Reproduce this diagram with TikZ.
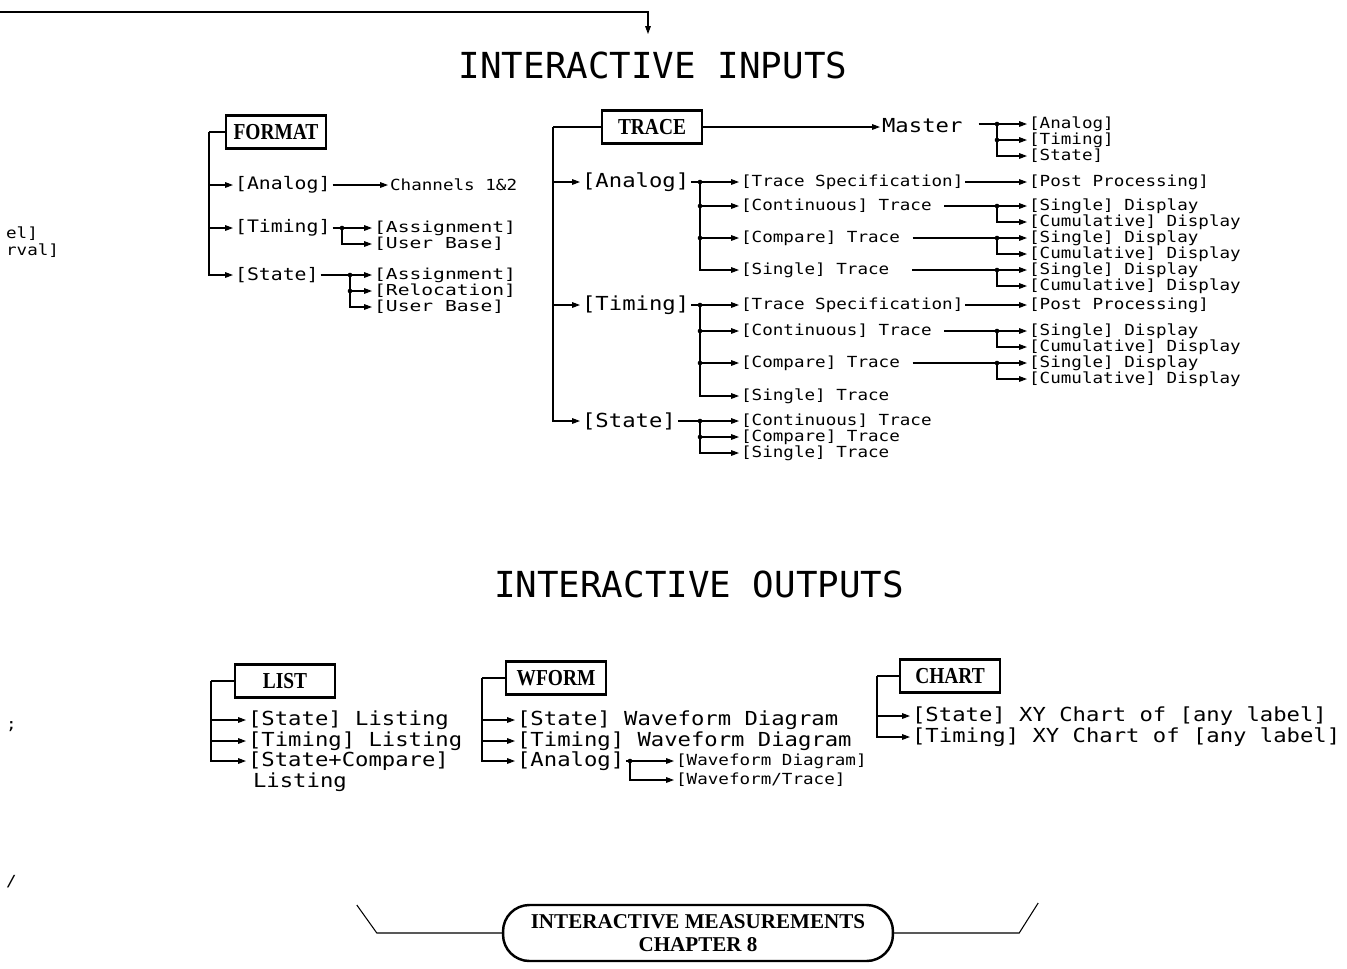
\documentclass[tikz,border=0pt]{standalone}
\usepackage{fontspec}
\usetikzlibrary{arrows.meta}
\newfontfamily\plotfont{DejaVu Sans Mono}[FakeStretch=1.15]
\newfontfamily\plotwide{DejaVu Sans Mono}[FakeStretch=1.3]
\newfontfamily\headfont{DejaVu Sans Mono}
\newfontfamily\keyfont{Liberation Serif}[FakeStretch=0.85]
\newfontfamily\tabfont{Liberation Serif}
\tikzset{
  big/.style={anchor=west, inner xsep=1pt, inner ysep=0pt, font=\plotfont\fontsize{11}{13}\selectfont},
  mid/.style={anchor=west, inner xsep=1pt, inner ysep=0pt, font=\plotfont\fontsize{9.8}{12}\selectfont},
  wid/.style={anchor=west, inner xsep=1pt, inner ysep=0pt, font=\plotwide\fontsize{8.6}{10}\selectfont},
  sml/.style={anchor=west, inner xsep=1pt, inner ysep=0pt, font=\plotfont\fontsize{8.7}{10}\selectfont},
  keybox/.style={draw, line width=1.3pt, minimum width=2cm, minimum height=0.66cm,
    inner sep=2pt, font=\keyfont\bfseries\fontsize{13}{15}\selectfont},
  heading/.style={font=\headfont\fontsize{20.4}{24}\selectfont},
  ln/.style={line width=0.6pt},
  arr/.style={ln, -{Triangle[length=4.5pt,width=3.2pt]}},
}
\newcommand\jdot[1]{\fill (#1) circle (1.3pt);}

\begin{document}
\begin{tikzpicture}[x=0.02cm, y=-0.02cm]
  \useasboundingbox (0,0) rectangle (1347,968);
  % line coming in from the previous page
  \coordinate (topin) at (0,12);
  \coordinate (topout) at (648,34);
  \draw[arr] (topin) -| (topout);
  % scraps of the facing page
  \node[sml] (scrapA) at (4,234) {el]};
  \node[sml] (scrapB) at (4,251) {rval]};
  \node[sml] (scrapC) at (4,727) {;};
  \node[sml] (scrapD) at (4,882) {/};

  \node[heading] (inTitle) at (653,65) {INTERACTIVE INPUTS};

  % FORMAT tree
  \node[keybox] (fmt) at (276,132) {FORMAT};
  \coordinate (fTr) at (209,132);
  \node[mid] (fAna) at (233,185) {[Analog]};
  \node[sml] (fChan) at (388,185) {Channels 1\&2};
  \node[mid] (fTim) at (233,228) {[Timing]};
  \node[wid] (fTasg) at (372,228) {[Assignment]};
  \node[wid] (fTusr) at (372,244) {[User Base]};
  \node[mid] (fSta) at (233,275) {[State]};
  \node[wid] (fSasg) at (372,275) {[Assignment]};
  \node[wid] (fSrel) at (372,291) {[Relocation]};
  \node[wid] (fSusr) at (372,307) {[User Base]};
  \draw[ln] (fmt.west) -- (fTr);
  \draw[arr] (fTr) |- (fAna.west);
  \draw[arr] (fTr) |- (fTim.west);
  \draw[arr] (fTr) |- (fSta.west);
  \draw[arr] (fAna.east) -- (fChan.west);
  \coordinate (fTj) at (342,228);
  \draw[ln] (fTim.east) -- (fTj);
  \draw[arr] (fTj) -- (fTasg.west);
  \draw[arr] (fTj) |- (fTusr.west);
  \jdot{fTj}
  \coordinate (fSj) at (350,275);
  \draw[ln] (fSta.east) -- (fSj);
  \draw[arr] (fSj) -- (fSasg.west);
  \draw[arr] (fSj) |- (fSrel.west);
  \draw[arr] (fSj) |- (fSusr.west);
  \jdot{fSj} \jdot{fSj |- fSrel.west}

  % TRACE tree
  \node[keybox] (trc) at (652,127) {TRACE};
  \coordinate (tTr) at (553,127);
  \node[big] (mst) at (880,126) {Master};
  \node[sml] (mA) at (1027,124) {[Analog]};
  \node[sml] (mT) at (1027,140) {[Timing]};
  \node[sml] (mS) at (1027,156) {[State]};
  \draw[arr] (trc.east) -- (trc.east -| mst.west);
  \coordinate (mj) at (997,124);
  \draw[ln] (mst.east) ++(14,-2) coordinate (mstOut);
  \draw[ln] (mstOut) -- (mj);
  \draw[arr] (mj) -- (mA.west);
  \draw[arr] (mj) |- (mT.west);
  \draw[arr] (mj) |- (mS.west);
  \jdot{mj} \jdot{mj |- mT.west}
  % -- analog branch
  \node[big] (tAna) at (580,182) {[Analog]};
  \node[sml] (aSpec) at (739,182) {[Trace Specification]};
  \node[sml] (aPost) at (1027,182) {[Post Processing]};
  \node[sml] (aCont) at (739,206) {[Continuous] Trace};
  \node[sml] (aCs) at (1027,206) {[Single] Display};
  \node[sml] (aCc) at (1027,222) {[Cumulative] Display};
  \node[sml] (aComp) at (739,238) {[Compare] Trace};
  \node[sml] (aPs) at (1027,238) {[Single] Display};
  \node[sml] (aPc) at (1027,254) {[Cumulative] Display};
  \node[sml] (aSing) at (739,270) {[Single] Trace};
  \node[sml] (aSs) at (1027,270) {[Single] Display};
  \node[sml] (aSc) at (1027,286) {[Cumulative] Display};
  \coordinate (aj) at (700,182);
  \draw[ln] (tAna.east) -- (aj);
  \draw[arr] (aj) -- (aSpec.west);
  \draw[arr] (aj) |- (aCont.west);
  \draw[arr] (aj) |- (aComp.west);
  \draw[arr] (aj) |- (aSing.west);
  \jdot{aj} \jdot{aj |- aCont.west} \jdot{aj |- aComp.west}
  \draw[arr] (aSpec.east) -- (aPost.west);
  \coordinate (aCj) at (997,206);
  \draw[ln] ([xshift=6pt]aCont.east) -- (aCj);
  \draw[arr] (aCj) -- (aCs.west);
  \draw[arr] (aCj) |- (aCc.west);
  \jdot{aCj}
  \coordinate (aPj) at (997,238);
  \draw[ln] ([xshift=6pt]aComp.east) -- (aPj);
  \draw[arr] (aPj) -- (aPs.west);
  \draw[arr] (aPj) |- (aPc.west);
  \jdot{aPj}
  \coordinate (aSj) at (997,270);
  \draw[ln] ([xshift=12pt]aSing.east) -- (aSj);
  \draw[arr] (aSj) -- (aSs.west);
  \draw[arr] (aSj) |- (aSc.west);
  \jdot{aSj}
  % -- timing branch
  \node[big] (tTim) at (580,305) {[Timing]};
  \node[sml] (bSpec) at (739,305) {[Trace Specification]};
  \node[sml] (bPost) at (1027,305) {[Post Processing]};
  \node[sml] (bCont) at (739,331) {[Continuous] Trace};
  \node[sml] (bCs) at (1027,331) {[Single] Display};
  \node[sml] (bCc) at (1027,347) {[Cumulative] Display};
  \node[sml] (bComp) at (739,363) {[Compare] Trace};
  \node[sml] (bPs) at (1027,363) {[Single] Display};
  \node[sml] (bPc) at (1027,379) {[Cumulative] Display};
  \node[sml] (bSing) at (739,396) {[Single] Trace};
  \coordinate (bj) at (700,305);
  \draw[ln] (tTim.east) -- (bj);
  \draw[arr] (bj) -- (bSpec.west);
  \draw[arr] (bj) |- (bCont.west);
  \draw[arr] (bj) |- (bComp.west);
  \draw[arr] (bj) |- (bSing.west);
  \jdot{bj} \jdot{bj |- bCont.west} \jdot{bj |- bComp.west}
  \draw[arr] (bSpec.east) -- (bPost.west);
  \coordinate (bCj) at (997,331);
  \draw[ln] ([xshift=6pt]bCont.east) -- (bCj);
  \draw[arr] (bCj) -- (bCs.west);
  \draw[arr] (bCj) |- (bCc.west);
  \jdot{bCj}
  \coordinate (bPj) at (997,363);
  \draw[ln] ([xshift=6pt]bComp.east) -- (bPj);
  \draw[arr] (bPj) -- (bPs.west);
  \draw[arr] (bPj) |- (bPc.west);
  \jdot{bPj}
  % -- state branch
  \node[big] (tSta) at (580,421) {[State]};
  \node[sml] (sCont) at (739,421) {[Continuous] Trace};
  \node[sml] (sComp) at (739,437) {[Compare] Trace};
  \node[sml] (sSing) at (739,453) {[Single] Trace};
  \coordinate (sj) at (700,421);
  \draw[ln] (tSta.east) -- (sj);
  \draw[arr] (sj) -- (sCont.west);
  \draw[arr] (sj) |- (sComp.west);
  \draw[arr] (sj) |- (sSing.west);
  \jdot{sj} \jdot{sj |- sComp.west}
  % trunk of TRACE
  \draw[ln] (trc.west) -- (tTr);
  \draw[arr] (tTr) |- (tAna.west);
  \draw[arr] (tTr) |- (tTim.west);
  \draw[arr] (tTr) |- (tSta.west);

  \node[heading] (outTitle) at (699,584) {INTERACTIVE OUTPUTS};

  % LIST
  \node[keybox] (lst) at (285,681) {LIST};
  \coordinate (lTr) at (211,681);
  \node[big] (lSta) at (246,720) {[State] Listing};
  \node[big] (lTim) at (246,741) {[Timing] Listing};
  \node[big] (lCmp) at (246,761) {[State+Compare]};
  \node[big] (lCmp2) at (251,782) {Listing};
  \draw[ln] (lst.west) -- (lTr);
  \draw[arr] (lTr) |- (lSta.west);
  \draw[arr] (lTr) |- (lTim.west);
  \draw[arr] (lTr) |- (lCmp.west);
  % WFORM
  \node[keybox] (wfm) at (556,678) {WFORM};
  \coordinate (wTr) at (482,678);
  \node[big] (wSta) at (515,720) {[State] Waveform Diagram};
  \node[big] (wTim) at (515,741) {[Timing] Waveform Diagram};
  \node[big] (wAna) at (515,761) {[Analog]};
  \node[sml] (wDia) at (674,761) {[Waveform Diagram]};
  \node[sml] (wTrc) at (674,780) {[Waveform/Trace]};
  \draw[ln] (wfm.west) -- (wTr);
  \draw[arr] (wTr) |- (wSta.west);
  \draw[arr] (wTr) |- (wTim.west);
  \draw[arr] (wTr) |- (wAna.west);
  \coordinate (wj) at (630,761);
  \draw[ln] (wAna.east) -- (wj);
  \draw[arr] (wj) -- (wDia.west);
  \draw[arr] (wj) |- (wTrc.west);
  \jdot{wj}
  % CHART
  \node[keybox] (crt) at (950,676) {CHART};
  \coordinate (cTr) at (877,676);
  \node[big] (cSta) at (910,716) {[State] XY Chart of [any label]};
  \node[big] (cTim) at (910,737) {[Timing] XY Chart of [any label]};
  \draw[ln] (crt.west) -- (cTr);
  \draw[arr] (cTr) |- (cSta.west);
  \draw[arr] (cTr) |- (cTim.west);

  % chapter tab
  \node[draw, line width=1.4pt, rounded corners=15pt, minimum width=7.8cm,
    minimum height=1.12cm, align=center,
    font=\tabfont\bfseries\fontsize{12}{13.2}\selectfont] (chap) at (698,933)
    {INTERACTIVE MEASUREMENTS\\CHAPTER 8};
  \draw[ln] (chap.west) -- ++(-125,0) -- ++(-20,-28);
  \draw[ln] (chap.east) -- ++(125,0) -- ++(19,-30);
\end{tikzpicture}
\end{document}
